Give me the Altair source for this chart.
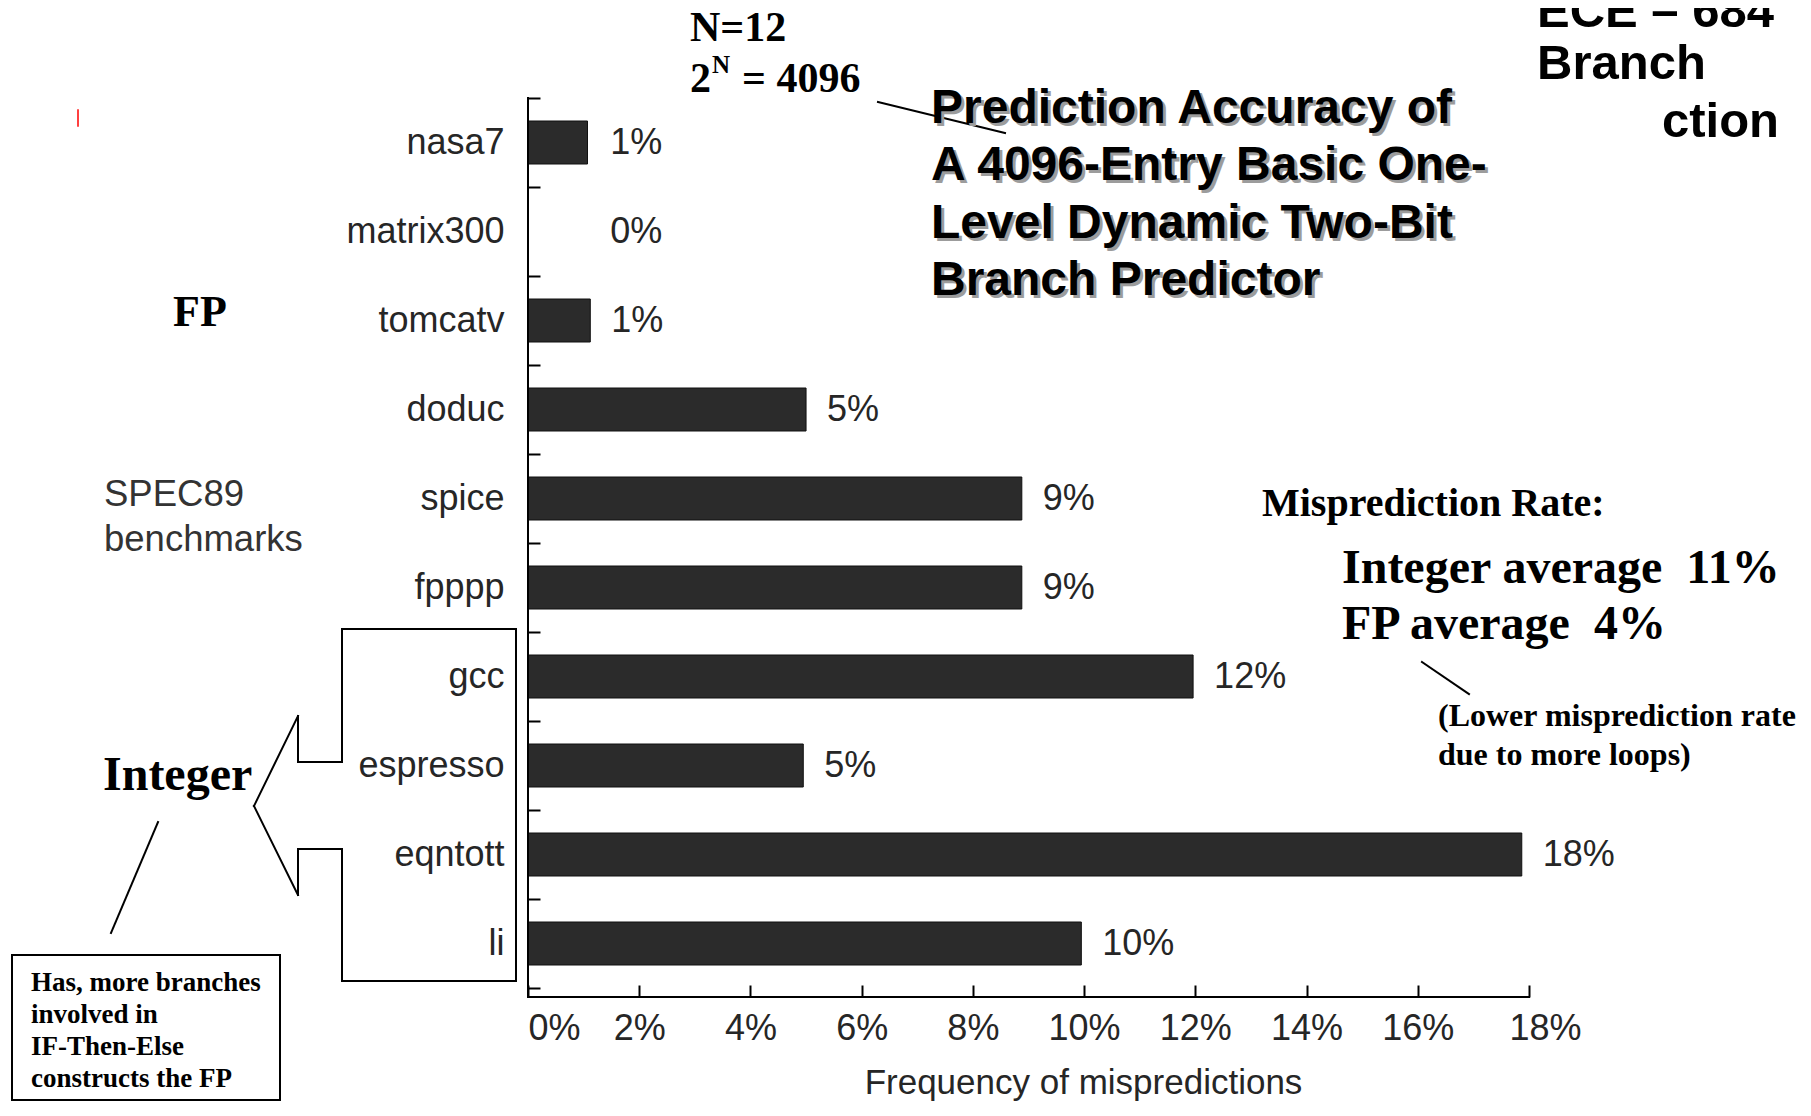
import altair as alt
import pandas as pd

# ---------------- data ----------------
BENCHMARKS = ["nasa7", "matrix300", "tomcatv", "doduc", "spice",
              "fpppp", "gcc", "espresso", "eqntott", "li"]
RATES = [1.07, 0.0, 1.12, 5.0, 8.88, 8.88, 11.96, 4.95, 17.87, 9.95]
RATE_LABELS = ["1%", "0%", "1%", "5%", "9%", "9%", "12%", "5%", "18%", "10%"]
X_TICKS = [0, 2, 4, 6, 8, 10, 12, 14, 16, 18]

TITLE_LINES = ["Prediction Accuracy of", "A 4096-Entry Basic One-",
               "Level Dynamic Two-Bit", "Branch Predictor"]
NOTE_LINES = ["Has, more branches", "involved in", "IF-Then-Else", "constructs the FP"]
SPEC_LINES = ["SPEC89", "benchmarks"]
LOOP_LINES = ["(Lower misprediction rate", "due to more loops)"]

# ---------------- layout / style ----------------
W, H = 1001, 899
BAND_RANGE = 890
BAR_SIZE = 43
SANS = "Liberation Sans, Arial, Helvetica, sans-serif"
SERIF = "Liberation Serif, Times New Roman, serif"
INK = "#262626"

df = pd.DataFrame({"bench": BENCHMARKS, "rate": RATES, "label": RATE_LABELS})
ONE = pd.DataFrame({"k": [0]})

y_enc = alt.Y(
    "bench:N", sort=BENCHMARKS,
    scale=alt.Scale(range=[0, BAND_RANGE], paddingInner=0, paddingOuter=0),
    axis=alt.Axis(title=None, tickBand="extent", tickSize=12, tickWidth=2,
                  tickColor="black", offset=-12, domain=False, grid=False,
                  labelPadding=24, labelFont=SANS, labelFontSize=36,
                  labelColor=INK),
)

x_axis = alt.Axis(
    values=X_TICKS, labelExpr="datum.value + '%'", tickSize=12, tickWidth=2,
    tickColor="black", offset=-12, domain=False, grid=False, labelPadding=14,
    labelFont=SANS, labelFontSize=36, labelColor=INK, labelFlush=False,
    labelOverlap=False,
    labelAlign={"condition": {"test": "datum.value == 0", "value": "left"}, "value": "center"},
    labelOffset={"condition": {"test": "datum.value == 18", "value": 16}, "value": 0},
    title="Frequency of mispredictions", titleFont=SANS, titleFontSize=35,
    titleFontWeight="normal", titleColor=INK, titleX=555, titleY=108,
    titleAlign="center", titleBaseline="alphabetic",
)
x_scale = alt.Scale(domain=[0, 18], nice=False, zero=True)

base = alt.Chart(df).transform_calculate(pos="max(datum.rate, 1.1)")

bars = base.mark_bar(color="#2b2b2b", stroke="#111111", strokeWidth=1, size=BAR_SIZE).encode(
    x=alt.X("rate:Q", scale=x_scale, axis=x_axis),
    y=y_enc,
)

values = base.mark_text(align="left", baseline="middle", dx=21, font=SANS,
                        fontSize=36, color=INK).encode(
    x=alt.X("pos:Q", scale=x_scale, axis=x_axis),
    y=y_enc,
    text="label:N",
)


def label(txt, x, y, size, font=SERIF, weight="bold", color="black", align="left"):
    return alt.Chart(ONE).mark_text(
        text=txt, font=font, fontSize=size, fontWeight=weight, color=color,
        align=align, baseline="alphabetic",
    ).encode(x=alt.value(x), y=alt.value(y))


def seg(x1, y1, x2, y2, width=2, color="black"):
    return alt.Chart(ONE).mark_rule(color=color, strokeWidth=width, strokeCap="square").encode(
        x=alt.value(x1), y=alt.value(y1), x2=alt.value(x2), y2=alt.value(y2))


layers = [bars, values]

# axis lines
layers.append(seg(0, 0, 0, H))
layers.append(seg(0, H, W, H))

# N=12, 2^N = 4096
layers.append(label("N=12", 162, -57, 42))
layers.append(label("2", 162, -6, 42))
layers.append(label("N", 184, -25, 25))
layers.append(label("=\u00a04096", 214, -6, 42))
layers.append(seg(350, 4, 477, 35, width=2))

# title with shadow
for i, line in enumerate(TITLE_LINES):
    yy = 25 + i * 57.3
    layers.append(label(line, 406, yy + 3, 48, font=SANS, color="#9c9c9c"))
    layers.append(label(line, 403, yy, 48, font=SANS))

# top-right slide header
layers.append(label("ECE \u2013 684", 1009, -71, 49, font=SANS))
layers.append(label("Branch", 1009, -19, 49, font=SANS))
layers.append(label("Prediction", 1251, 39, 49, font=SANS, align="right"))
layers.append(alt.Chart(ONE).mark_rect(color="white").encode(
    x=alt.value(960), x2=alt.value(1131), y=alt.value(-8), y2=alt.value(50)))

# left side annotations
layers.append(label("FP", -355, 228, 44))
for i, line in enumerate(SPEC_LINES):
    layers.append(label(line, -424, 408 + i * 45, 36.5, font=SANS, weight="normal", color="#333333"))
layers.append(label("Integer", -425, 692, 48))
layers.append(seg(-370, 724, -417, 835))

# bracket / callout around the integer benchmarks
BRACKET = [(-186, 531), (-12, 531), (-12, 883), (-186, 883), (-186, 751),
           (-230, 751), (-230, 797), (-274, 708), (-230, 618), (-230, 664),
           (-186, 664), (-186, 531)]
for (ax, ay), (bx, by) in zip(BRACKET[:-1], BRACKET[1:]):
    layers.append(seg(ax, ay, bx, by))

# note box
layers.append(alt.Chart(ONE).mark_rect(fill="white", stroke="black", strokeWidth=2).encode(
    x=alt.value(-516), x2=alt.value(-248), y=alt.value(857), y2=alt.value(1002)))
for i, line in enumerate(NOTE_LINES):
    layers.append(label(line, -497, 893 + i * 32, 27))

# right side annotations
layers.append(label("Misprediction Rate:", 734, 418, 40))
layers.append(label("Integer average\u00a0\u00a011%", 814, 485, 48))
layers.append(label("FP average\u00a0\u00a04%", 814, 541, 48))
layers.append(seg(894, 564, 941, 596))
for i, line in enumerate(LOOP_LINES):
    layers.append(label(line, 910, 628 + i * 39, 32))

# small red mark
layers.append(seg(-450, 12, -450, 28, width=1.5, color="red"))

chart = alt.layer(*layers).properties(
    width=W, height=H,
    autosize=alt.AutoSizeParams(type="none"),
    padding={"left": 520, "top": 90, "right": 274, "bottom": 105},
).configure_view(stroke="transparent")

chart.save("out.html", embed_options={"renderer": "svg", "actions": False})
